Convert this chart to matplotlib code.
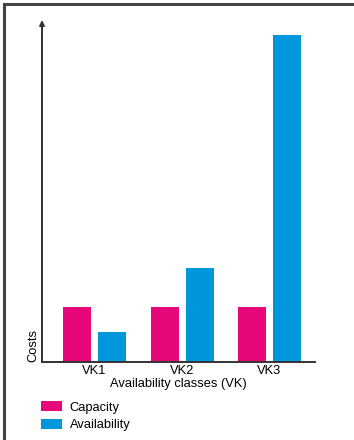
import numpy as np
import matplotlib.pyplot as plt
from matplotlib.lines import Line2D

classes = ['VK1', 'VK2', 'VK3']
capacity = [5.5, 5.5, 5.5]
availability = [3.0, 9.4, 32.7]

PINK = '#E6077A'
BLUE = '#0096DB'
AXIS = '#333333'
FS = 9.3

W, H = 354, 440
fig = plt.figure(figsize=(W / 100, H / 100), dpi=100)
plt.rcParams['font.family'] = ['Liberation Sans', 'DejaVu Sans']

# frame on the left and top edges
fig.add_artist(Line2D([4 / W, 4 / W], [0, 1 - 4.5 / H], color='#444444', lw=2.2))
fig.add_artist(Line2D([4 / W, 1], [1 - 4.5 / H, 1 - 4.5 / H], color='#444444', lw=2.2))

ax = fig.add_axes([42 / W, 78 / H, 273 / W, 342 / H])
x = np.arange(len(classes))
width = 0.32
ax.bar(x - 0.2, capacity, width, color=PINK, label='Capacity')
ax.bar(x + 0.2, availability, width, color=BLUE, label='Availability')

ax.set_xlim(-0.6, 2.52)
ax.set_ylim(0, 34.2)
ax.set_xticks(x)
ax.set_xticklabels(classes, fontsize=FS)
ax.tick_params(axis='x', length=0, pad=2)
ax.set_yticks([])
ax.set_xlabel('Availability classes (VK)', fontsize=FS, labelpad=1)
ax.set_ylabel('Costs', fontsize=FS, labelpad=2, loc='bottom')

for s in ['top', 'right', 'left']:
    ax.spines[s].set_visible(False)
ax.spines['bottom'].set_color(AXIS)
ax.spines['bottom'].set_linewidth(1.4)

# y axis drawn as an arrow
ax.annotate('', xy=(0, 1), xytext=(0, 0), xycoords='axes fraction',
            arrowprops=dict(arrowstyle='-|>', color=AXIS, lw=1.4,
                            mutation_scale=7, shrinkA=0, shrinkB=0))

fig.legend(loc='upper left', bbox_to_anchor=(36 / W, 1 - 396 / H), frameon=False,
           fontsize=FS, handlelength=1.65, handleheight=0.8, handletextpad=0.55,
           labelspacing=0.42, borderaxespad=0)

fig.savefig('out.png', dpi=100)
